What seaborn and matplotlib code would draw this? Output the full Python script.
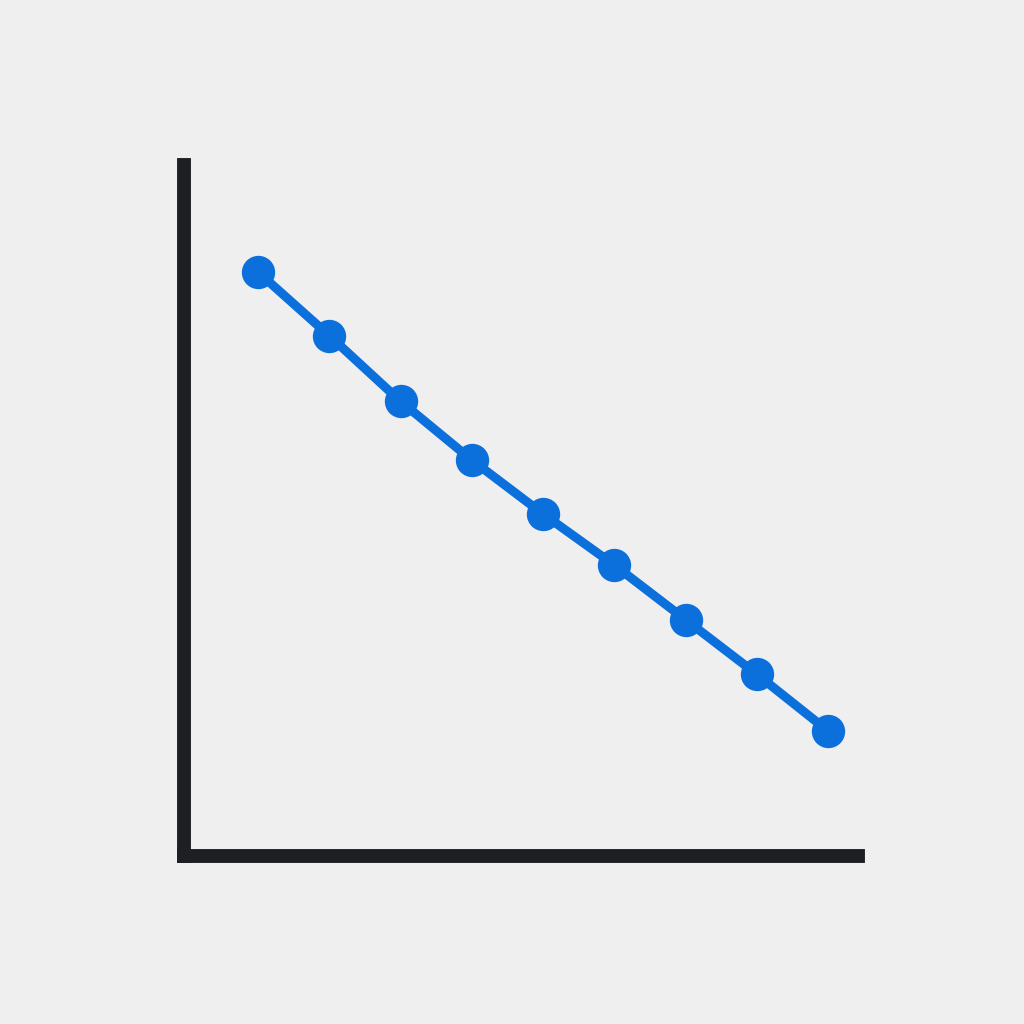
import matplotlib
matplotlib.use('Agg')
import matplotlib.pyplot as plt
import seaborn as sns
import pandas as pd

# ── Data ─────────────────────────────────────────────────
x_vals = [1, 2, 3, 4, 5, 6, 7, 8, 9]
y_vals = [8.45, 7.53, 6.58, 5.73, 4.95, 4.21, 3.42, 2.63, 1.81]

df = pd.DataFrame({'x': x_vals, 'y': y_vals})

bg = '#efefef'
sns.set_style('white')

fig = plt.figure(figsize=(10.24, 10.24), dpi=100, facecolor=bg)
ax = fig.add_axes([0.1792, 0.1641, 0.6587, 0.6748])
ax.set_facecolor(bg)

sns.lineplot(data=df, x='x', y='y', ax=ax, color='#0b6fdc', linewidth=6.5,
             marker='o', markersize=24, markeredgewidth=0,
             markerfacecolor='#0b6fdc')

ax.set_xlim(-0.046, 9.421)
ax.set_ylim(0, 10)
ax.set_xticks([])
ax.set_yticks([])
ax.set_xlabel('')
ax.set_ylabel('')

for side in ['top', 'right']:
    ax.spines[side].set_visible(False)
for side in ['left', 'bottom']:
    ax.spines[side].set_linewidth(10)
    ax.spines[side].set_color('#1e1f22')

fig.savefig('out.png', dpi=100, facecolor=bg)
plt.close(fig)
